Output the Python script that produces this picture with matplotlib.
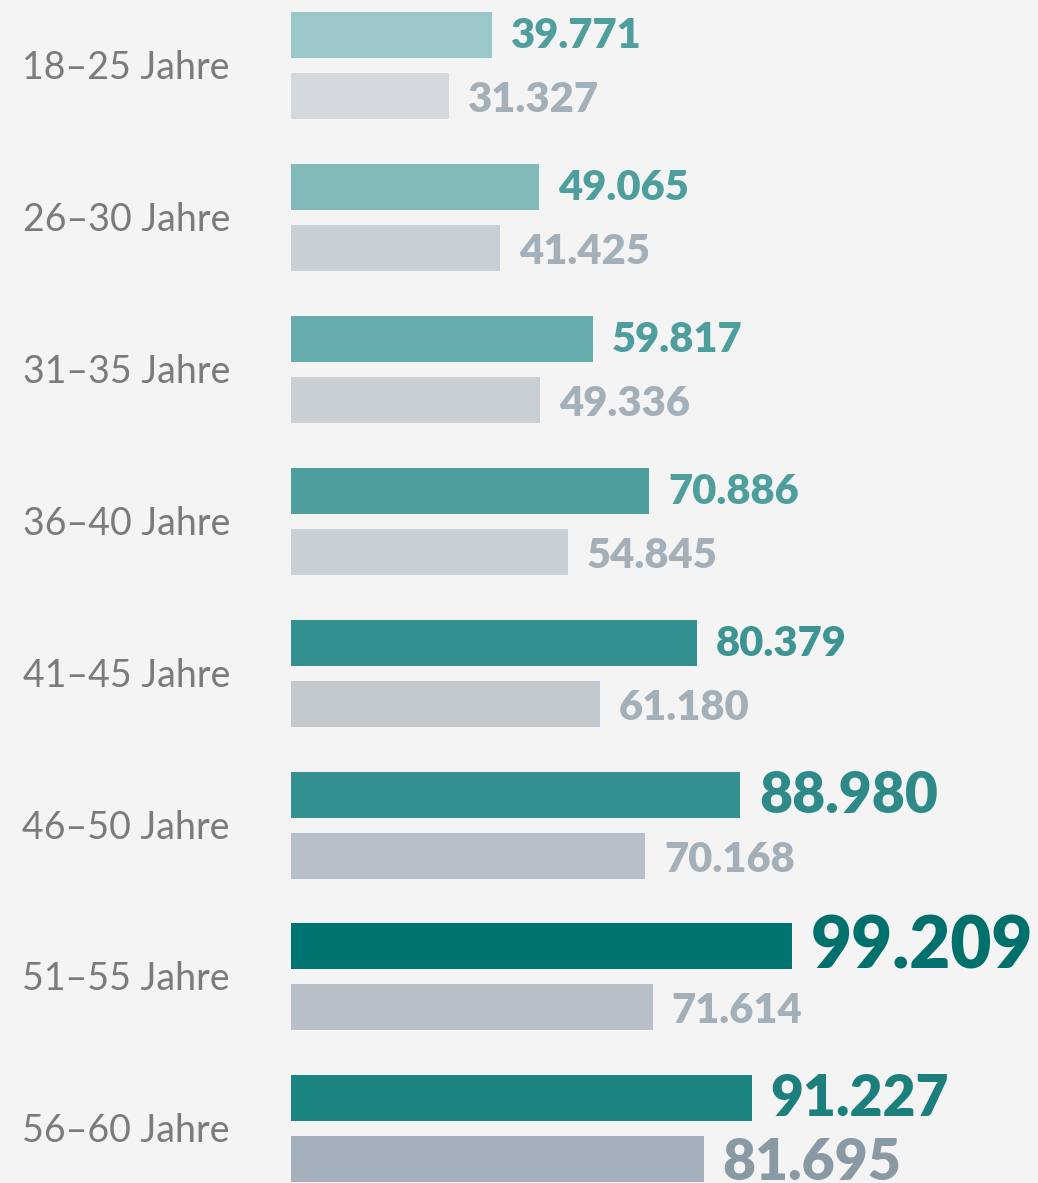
import matplotlib
matplotlib.use("Agg")
import matplotlib.pyplot as plt

# Daten
categories = ["18–25 Jahre", "26–30 Jahre", "31–35 Jahre", "36–40 Jahre",
              "41–45 Jahre", "46–50 Jahre", "51–55 Jahre", "56–60 Jahre"]
current = [39771, 49065, 59817, 70886, 80379, 88980, 99209, 91227]
previous = [31327, 41425, 49336, 54845, 61180, 70168, 71614, 81695]

# Farben
bar_top = ["#9ac8c8", "#82baba", "#68adad", "#4e9e9e",
           "#339090", "#339090", "#007470", "#1b8582"]
bar_bot = ["#d4d9df", "#c9d0d5", "#c9d0d5", "#c9d0d5",
           "#c1c8ce", "#b7c0c8", "#b7c0c8", "#a4b0b9"]
lab_top = ["#4e9e9e", "#4e9e9e", "#4e9e9e", "#4e9e9e",
           "#3d9593", "#2e8a88", "#00706c", "#1b7f7c"]
lab_bot = ["#a4b0b9"] * 7 + ["#8a9aa5"]
size_top = [30, 30, 30, 30, 30, 41, 51, 41]
size_bot = [30, 30, 30, 30, 30, 30, 30, 41]

W, H = 1038, 1183
x0 = 291                 # Pixel, an dem die Balken beginnen
px_per_unit = 501 / 99209
bar_h = 46
step = 151.9

fig = plt.figure(figsize=(W / 100, H / 100), dpi=100)
fig.patch.set_facecolor("#f4f4f4")
ax = fig.add_axes([0, 0, 1, 1])
ax.set_facecolor("#f4f4f4")
ax.set_xlim(-x0 / px_per_unit, (W - x0) / px_per_unit)
ax.set_ylim(H, 0)
ax.axis("off")

gap = 19 / px_per_unit

for i, cat in enumerate(categories):
    top = 12 + i * step
    yc1 = top + bar_h / 2
    yc2 = top + 61 + bar_h / 2
    ax.barh(yc1, current[i], height=bar_h, left=0, color=bar_top[i])
    ax.barh(yc2, previous[i], height=bar_h, left=0, color=bar_bot[i])

    ax.text(current[i] + gap, yc1 + 1, f"{current[i] / 1000:.3f}",
            ha="left", va="center", fontsize=size_top[i], fontweight="heavy",
            family="Lato", color=lab_top[i])
    ax.text(previous[i] + gap, yc2 + 4, f"{previous[i] / 1000:.3f}",
            ha="left", va="center", fontsize=size_bot[i], fontweight="heavy",
            family="Lato", color=lab_bot[i])

    ax.text(-61 / px_per_unit, top + 56, cat, ha="right", va="center",
            fontsize=27, family="Lato", color="#7b7b7b")

fig.savefig("out.png", dpi=100, facecolor=fig.get_facecolor())
